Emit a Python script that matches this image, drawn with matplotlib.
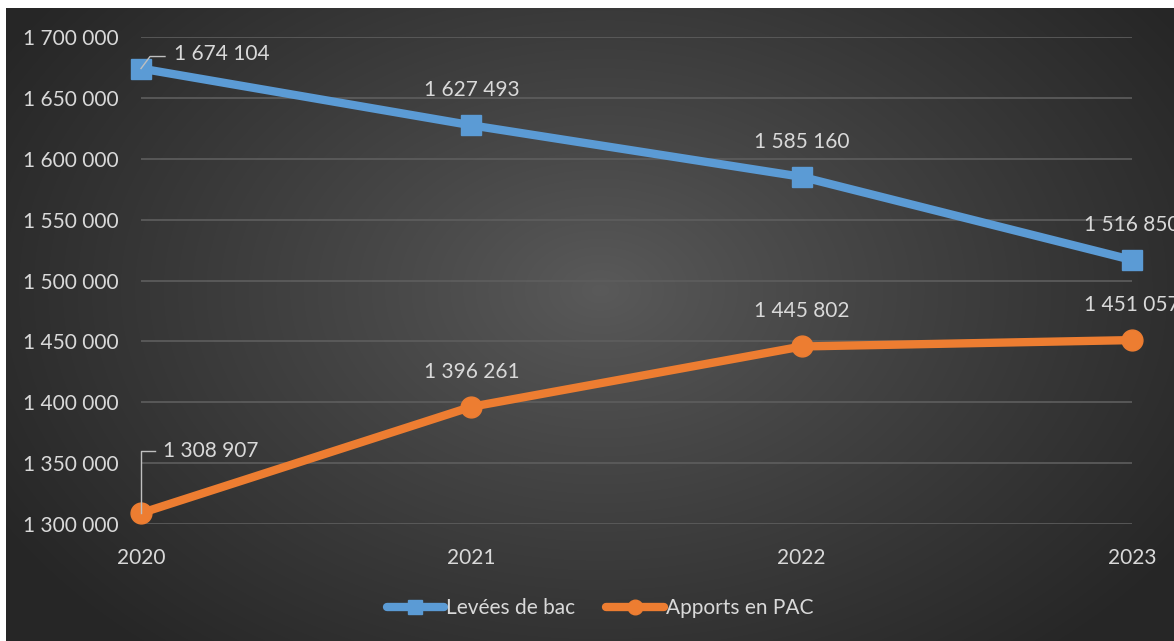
import numpy as np
import matplotlib
matplotlib.use("Agg")
import matplotlib.pyplot as plt
from matplotlib.lines import Line2D

years = [2020, 2021, 2022, 2023]
levees = [1674104, 1627493, 1585160, 1516850]
apports = [1308907, 1396261, 1445802, 1451057]
labels_levees = ["1 674 104", "1 627 493", "1 585 160", "1 516 850"]
labels_apports = ["1 308 907", "1 396 261", "1 445 802", "1 451 057"]
yticks = [1300000, 1350000, 1400000, 1450000, 1500000, 1550000, 1600000, 1650000, 1700000]
ytick_labels = ["1 300 000", "1 350 000", "1 400 000", "1 450 000", "1 500 000",
                "1 550 000", "1 600 000", "1 650 000", "1 700 000"]

plt.rcParams['font.family'] = ['Lato', 'DejaVu Sans']
FS = 15
W, H = 1174, 641
fig = plt.figure(figsize=(W / 100, H / 100), dpi=100)
fig.patch.set_facecolor('white')

# radial gradient background (starts at x=6, y=8)
bx0, by0 = 6, 8
bg = fig.add_axes([bx0 / W, 0, (W - bx0) / W, (H - by0) / H], zorder=0)
bw, bh = W - bx0, H - by0
yy, xx = np.mgrid[0:bh, 0:bw]
cx, cy = 600 - bx0, 290 - by0
r = np.sqrt(((xx - cx) / 700.0) ** 2 + ((yy - cy) / 480.0) ** 2)
r = np.clip(r, 0, 1)
c_center, c_edge = 0x5a / 255, 0x26 / 255
val = c_center + (c_edge - c_center) * r ** 0.9
img = np.dstack([val, val, val])
bg.imshow(img, aspect='auto', extent=[0, 1, 0, 1], origin='upper')
bg.axis('off')

txt = '#d9d9d9'
blue = '#5b9bd5'
orange = '#ed7d31'

ax = fig.add_axes([141 / W, 1 - 524 / H, (1132 - 141) / W, (524 - 37) / H], zorder=1)
ax.patch.set_alpha(0)
ax.set_xlim(2020, 2023)
ax.set_ylim(1300000, 1700000)
ax.set_xticks(years)
ax.set_xticklabels([str(y) for y in years])
ax.set_yticks(yticks)
ax.set_yticklabels(ytick_labels)
ax.tick_params(axis='both', length=0, colors=txt, labelsize=FS)
ax.tick_params(axis='x', pad=17)
ax.tick_params(axis='y', pad=16)
for s in ax.spines.values():
    s.set_visible(False)
ax.grid(axis='y', color='#5e5e5e', lw=1.2)
ax.set_axisbelow(True)

ax.plot(years, levees, color=blue, lw=6, marker='s', ms=14, clip_on=False,
        solid_capstyle='round', label='Levées de bac', zorder=3)
ax.plot(years, apports, color=orange, lw=6, marker='o', ms=15, clip_on=False,
        solid_capstyle='round', label='Apports en PAC', zorder=3)

for i, (x, v, lab) in enumerate(zip(years, levees, labels_levees)):
    if i == 0:
        ax.annotate(lab, (x, v), xytext=(33, 15), textcoords='offset pixels',
                    ha='left', va='center', color=txt, fontsize=FS, annotation_clip=False)
    else:
        ax.annotate(lab, (x, v), xytext=(0, 35), textcoords='offset pixels',
                    ha='center', va='center', color=txt, fontsize=FS, annotation_clip=False)
for i, (x, v, lab) in enumerate(zip(years, apports, labels_apports)):
    if i == 0:
        ax.annotate(lab, (x, v), xytext=(22, 62), textcoords='offset pixels',
                    ha='left', va='center', color=txt, fontsize=FS, annotation_clip=False)
    else:
        ax.annotate(lab, (x, v), xytext=(0, 35), textcoords='offset pixels',
                    ha='center', va='center', color=txt, fontsize=FS, annotation_clip=False)

# leader lines (display coords)
fig.canvas.draw()
px, py = ax.transData.transform((years[0], levees[0]))
fig.add_artist(Line2D([px, px + 9, px + 24], [py, py + 12, py + 12],
                      color='#bfbfbf', lw=1, transform=None, zorder=5))
px, py = ax.transData.transform((years[0], apports[0]))
fig.add_artist(Line2D([px, px, px + 14], [py, py + 62, py + 62],
                      color='#bfbfbf', lw=1, transform=None, zorder=5))

leg = ax.legend(loc='center', bbox_to_anchor=(600 / W, 1 - 608 / H),
                bbox_transform=fig.transFigure, ncol=2, frameon=False,
                fontsize=FS, labelcolor=txt, handlelength=2.75, handletextpad=0.1,
                columnspacing=1.5, markerscale=0.7)

fig.savefig('out.png', dpi=100, facecolor=fig.get_facecolor())
